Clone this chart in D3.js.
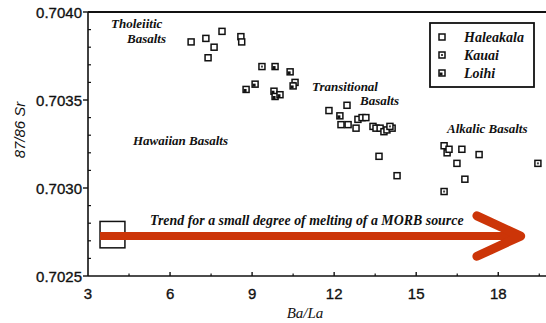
<!DOCTYPE html>
<html>
<head>
<meta charset="utf-8">
<script src="https://cdn.jsdelivr.net/npm/d3@7"></script>
<style>
  body { margin: 0; background: #fff; }
  svg text { fill: #111; }
  .num { stroke: #111; stroke-width: 0.35px; }
</style>
</head>
<body>
<svg id="chart" width="546" height="323"></svg>
<script>
// Ba/La vs 87Sr/86Sr for Hawaiian basalts
const haleakalaBaLa = [6.77, 7.31, 7.90, 7.61, 7.39, 8.59, 8.62, 11.81, 12.47, 12.25, 12.51, 12.80, 12.87, 13.02, 13.16, 13.42, 13.53, 13.68, 13.82, 13.93, 14.12, 13.64, 14.30, 16.02, 16.13, 16.20, 16.67, 17.30, 16.49, 16.78];
const haleakalaSr   = [0.70383, 0.70385, 0.70389, 0.70380, 0.70374, 0.70386, 0.70383, 0.70344, 0.70347, 0.70336, 0.70336, 0.70334, 0.70339, 0.70340, 0.70340, 0.70335, 0.70334, 0.70334, 0.70332, 0.70333, 0.70334, 0.70318, 0.70307, 0.70324, 0.70320, 0.70322, 0.70322, 0.70319, 0.70314, 0.70305];
const kauaiBaLa = [9.36, 16.02, 19.45, 14.04];
const kauaiSr   = [0.70369, 0.70298, 0.70314, 0.70335];
const loihiBaLa = [9.84, 10.39, 10.57, 10.50, 8.78, 9.11, 9.80, 9.84, 10.02, 12.21];
const loihiSr   = [0.70369, 0.70366, 0.70360, 0.70358, 0.70356, 0.70359, 0.70355, 0.70352, 0.70353, 0.70341];

const seriesNames = ["Haleakala", "Kauai", "Loihi"];
const xTicks = [3, 6, 9, 12, 15, 18];
const yTicks = [0.7025, 0.7030, 0.7035, 0.7040];

// MORB small-degree melting trend: source box and arrow
const sourceBox = { x0: 3.44, x1: 4.35, y0: 0.70266, y1: 0.70281 };
const trend = { x1: 18.82, y: 0.702727, headX: 17.22, headDy: 0.000115 };

const W = 546, H = 323;
const svg = d3.select("#chart");
const x = d3.scaleLinear().domain([3, 20]).range([88, 88 + 17 * 27.35]);
const y = d3.scaleLinear().domain([0.7025, 0.7040]).range([276, 12]);

const tickFont = "'Liberation Sans', Arial, sans-serif";
const serif = "'Liberation Serif', 'Times New Roman', serif";

// frame: left axis, bottom axis, top border
const frame = svg.append("g").attr("stroke", "#111").attr("fill", "none");
frame.append("line").attr("x1", x(3)).attr("x2", W).attr("y1", y(0.7040)).attr("y2", y(0.7040)).attr("stroke-width", 2);
frame.append("line").attr("x1", x(3)).attr("x2", x(3)).attr("y1", y(0.7040)).attr("y2", y(0.7025)).attr("stroke-width", 1.6);
frame.append("line").attr("x1", x(3)).attr("x2", W).attr("y1", y(0.7025)).attr("y2", y(0.7025)).attr("stroke-width", 1.6);

// y ticks: major outward, minor inward every 0.0001
const yMinor = d3.range(0, 16).map(i => 0.7025 + i * 0.0001).filter(v => !yTicks.some(t => Math.abs(t - v) < 1e-7));
frame.selectAll(".ymaj").data(yTicks).join("line")
  .attr("x1", x(3) - 5).attr("x2", x(3)).attr("y1", d => y(d)).attr("y2", d => y(d)).attr("stroke-width", 1.4);
frame.selectAll(".ymin").data(yMinor).join("line")
  .attr("x1", x(3)).attr("x2", x(3) + 3).attr("y1", d => y(d)).attr("y2", d => y(d)).attr("stroke-width", 1.2);

// x ticks: major and half-step minor, pointing up
const xMinor = d3.range(4.5, 20, 3);
frame.selectAll(".xmaj").data(xTicks.slice(1)).join("line")
  .attr("x1", d => x(d)).attr("x2", d => x(d)).attr("y1", y(0.7025)).attr("y2", y(0.7025) - 4).attr("stroke-width", 1.4);
frame.selectAll(".xmin").data(xMinor).join("line")
  .attr("x1", d => x(d)).attr("x2", d => x(d)).attr("y1", y(0.7025)).attr("y2", y(0.7025) - 2.5).attr("stroke-width", 1.2);

// tick labels
svg.append("g").selectAll("text").data(yTicks).join("text")
  .attr("class", "num")
  .attr("x", 82).attr("y", d => y(d) + 5.5)
  .attr("text-anchor", "end")
  .style("font", `15px ${tickFont}`)
  .text(d => d3.format(".4f")(d));
svg.append("g").selectAll("text").data(xTicks).join("text")
  .attr("class", "num")
  .attr("x", d => x(d)).attr("y", 298.5)
  .attr("text-anchor", "middle")
  .style("font", `15px ${tickFont}`)
  .text(d => d);

// axis titles
svg.append("text").attr("x", 305).attr("y", 318).attr("text-anchor", "middle")
  .style("font", `italic 15px ${serif}`).text("Ba/La");
svg.append("text").attr("transform", "translate(25,130) rotate(-90)").attr("text-anchor", "middle")
  .style("font", `italic 15px ${tickFont}`).text("87/86 Sr");

// trend arrow and source box
const red = "#cc3508";
svg.append("rect")
  .attr("x", x(sourceBox.x0)).attr("y", y(sourceBox.y1))
  .attr("width", x(sourceBox.x1) - x(sourceBox.x0)).attr("height", y(sourceBox.y0) - y(sourceBox.y1))
  .attr("fill", "none").attr("stroke", "#111").attr("stroke-width", 1.5);
svg.append("line")
  .attr("x1", x(sourceBox.x0)).attr("x2", x(trend.x1) - 4)
  .attr("y1", y(trend.y)).attr("y2", y(trend.y))
  .attr("stroke", red).attr("stroke-width", 8);
svg.append("path")
  .attr("d", d3.line()([
    [x(trend.headX), y(trend.y + trend.headDy)],
    [x(trend.x1), y(trend.y)],
    [x(trend.headX), y(trend.y - trend.headDy)]
  ]))
  .attr("fill", "none").attr("stroke", red).attr("stroke-width", 9)
  .attr("stroke-linecap", "round").attr("stroke-linejoin", "round");

// annotations
const notes = [
  { t: "Tholeiitic", px: 111, py: 28 },
  { t: "Basalts", px: 127, py: 43 },
  { t: "Hawaiian Basalts", px: 133, py: 145 },
  { t: "Transitional", px: 312, py: 91 },
  { t: "Basalts", px: 360, py: 105 },
  { t: "Alkalic Basalts", px: 447, py: 133 }
];
svg.append("g").selectAll("text").data(notes).join("text")
  .attr("x", d => d.px).attr("y", d => d.py)
  .style("font", `italic bold 13px ${serif}`)
  .text(d => d.t);
svg.append("text").attr("x", 150).attr("y", 225)
  .style("font", `italic bold 13.9px ${serif}`)
  .text("Trend for a small degree of melting of a MORB source");

// markers
function marker(g, kind) {
  g.append("rect").attr("x", -3).attr("y", -3).attr("width", 6).attr("height", 6)
    .attr("fill", "#fff").attr("stroke", "#111").attr("stroke-width", 1.5);
  if (kind === "Kauai") {
    g.append("rect").attr("x", -1).attr("y", -1).attr("width", 2).attr("height", 2).attr("fill", "#444");
  } else if (kind === "Loihi") {
    g.append("rect").attr("x", -2.5).attr("y", -0.5).attr("width", 3).attr("height", 3).attr("fill", "#111");
  }
}
const sets = [
  { name: "Haleakala", xs: haleakalaBaLa, ys: haleakalaSr },
  { name: "Kauai", xs: kauaiBaLa, ys: kauaiSr },
  { name: "Loihi", xs: loihiBaLa, ys: loihiSr }
];
const pts = svg.append("g");
sets.forEach(s => {
  s.xs.forEach((v, i) => {
    const g = pts.append("g").attr("transform", `translate(${x(v)},${y(s.ys[i])})`);
    marker(g, s.name);
  });
});

// legend
const lg = svg.append("g");
lg.append("rect").attr("x", 430).attr("y", 23).attr("width", 104).attr("height", 64)
  .attr("fill", "#fff").attr("stroke", "#111").attr("stroke-width", 1.8);
seriesNames.forEach((n, i) => {
  const g = lg.append("g").attr("transform", `translate(442,${37 + i * 18})`);
  marker(g, n);
  lg.append("text").attr("x", 464).attr("y", 42 + i * 18)
    .style("font", `italic bold 14px ${serif}`).text(n);
});
</script>
</body>
</html>
